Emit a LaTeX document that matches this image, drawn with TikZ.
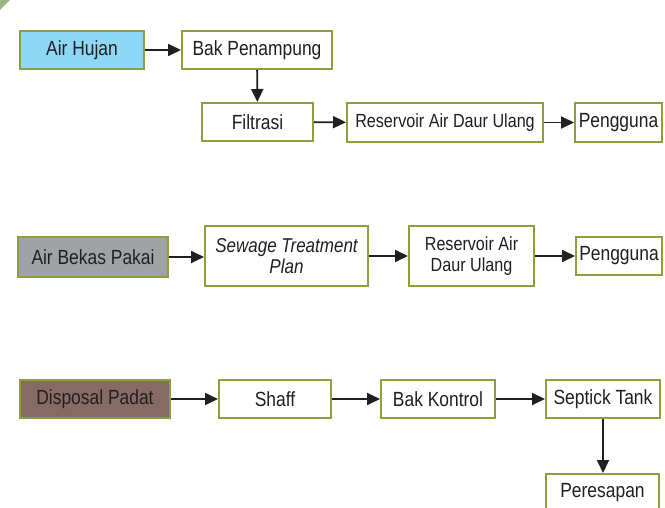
\documentclass[tikz,border=0pt]{standalone}
\usepackage{fontspec}
\setmainfont{Liberation Sans}[FakeStretch=0.85]
\usetikzlibrary{arrows.meta}
\definecolor{boxline}{HTML}{8CA03C}
\definecolor{txt}{HTML}{231F20}
\definecolor{blueF}{HTML}{8DD8F5}
\definecolor{grayF}{HTML}{A0A2A5}
\definecolor{brownF}{HTML}{866B65}
\definecolor{cornerG}{HTML}{9CB57E}
\tikzset{
  box/.style={draw=boxline, line width=2bp, fill=white, text=txt, inner sep=0pt,
    align=center, font=\fontsize{20.5bp}{20.5bp}\selectfont, minimum height=38bp},
  smalltext/.style={font=\fontsize{19bp}{20.5bp}\selectfont},
  flow/.style={draw=txt, line width=1.8bp, -{Triangle[length=13bp,width=12bp]}}
}
\begin{document}
\begin{tikzpicture}[x=1bp,y=-1bp]
\useasboundingbox (0,0) rectangle (665,508);
\clip (0,0) rectangle (665,508);
\fill[cornerG] (0,0) -- (10,0) -- (0,10) -- cycle;
% row 1
\node[box, fill=blueF, minimum width=124bp] (ah) at (82,50) {Air Hujan};
\node[box, minimum width=150bp] (bp) at (257,50) {Bak Penampung};
\node[box, minimum width=111bp] (fl) at (257.5,122) {Filtrasi};
\node[box, smalltext, minimum width=196bp, minimum height=39bp] (r1) at (445,122.5) {Reservoir Air Daur Ulang};
\node[box, minimum width=87bp, minimum height=39bp] (p1) at (618.5,122.5) {Pengguna};
\draw[flow] (ah) -- (bp);
\draw[flow] (bp) -- (fl);
\draw[flow] (fl) -- (r1);
\draw[flow] (r1) -- (p1);
% row 2
\node[box, fill=grayF, minimum width=150bp, minimum height=40bp] (abp) at (93,257) {Air Bekas Pakai};
\node[box, font=\fontsize{20bp}{20.5bp}\selectfont, minimum width=163bp, minimum height=60bp] (stp) at (286.5,256) {\itshape Sewage Treatment\\\itshape Plan};
\node[box, smalltext, minimum width=125bp, minimum height=60bp] (r2) at (471.5,256) {Reservoir Air\\Daur Ulang};
\node[box, minimum width=86bp] (p2) at (619,256) {Pengguna};
\draw[flow] (abp.east) -- (abp.east -| stp.west);
\draw[flow] (stp) -- (r2);
\draw[flow] (r2) -- (p2);
% row 3
\node[box, fill=brownF, minimum width=150bp] (dp) at (95,399) {Disposal Padat};
\node[box, minimum width=112bp] (sh) at (275,399) {Shaff};
\node[box, minimum width=114bp] (bk) at (438,399) {Bak Kontrol};
\node[box, minimum width=114bp] (st) at (603,399) {Septick Tank};
\node[box, minimum width=113bp] (pr) at (602.5,493) {Peresapan};
\draw[flow] (dp) -- (sh);
\draw[flow] (sh) -- (bk);
\draw[flow] (bk) -- (st);
\draw[flow] (st) -- (st |- pr.north);
\end{tikzpicture}
\end{document}
